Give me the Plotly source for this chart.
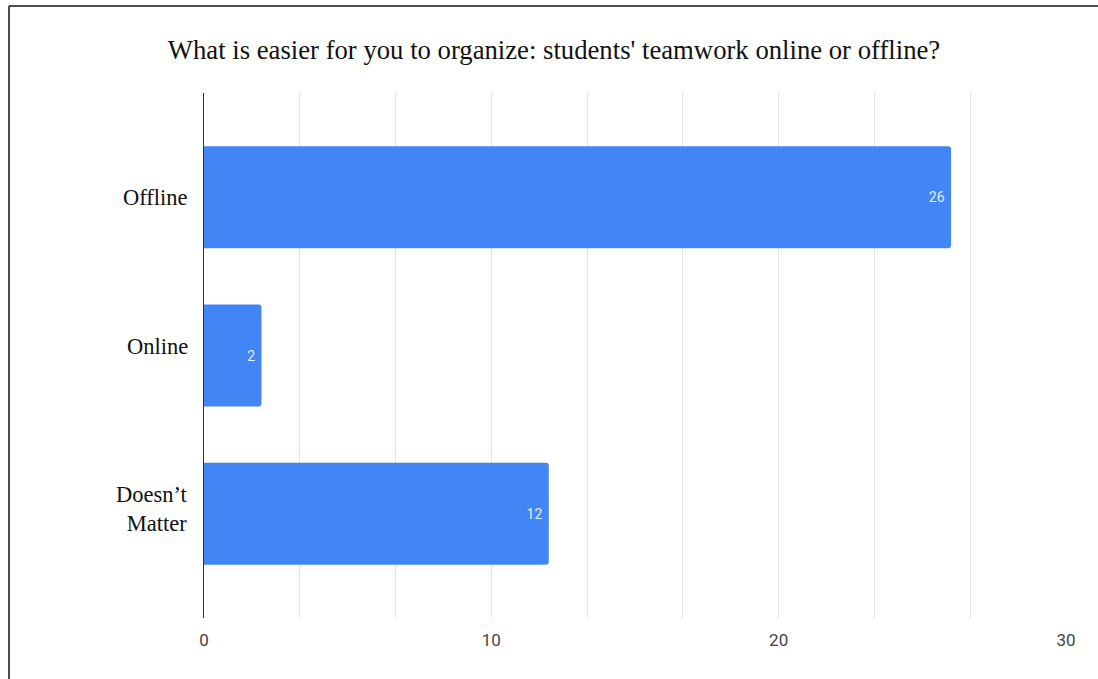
import plotly.graph_objects as go

# Survey answers and counts
categories = ["Offline", "Online", "Doesn’t<br>Matter"]
counts = [26, 2, 12]
x_ticks = [0, 10, 20, 30]

title_text = "What is easier for you to organize: students' teamwork online or offline?"

fig = go.Figure(
    go.Bar(
        x=counts,
        y=categories,
        orientation="h",
        width=0.645,
        marker=dict(color="#4285F4", cornerradius=3, line=dict(width=0)),
        texttemplate="%{x}\u00a0",
        textposition="inside",
        insidetextanchor="end",
        textfont=dict(family="Roboto", size=14, color="rgba(255,255,255,0.88)"),
        cliponaxis=False,
    )
)

fig.update_layout(
    width=1098,
    height=679,
    margin=dict(l=204, r=32, t=93, b=61),
    paper_bgcolor="white",
    plot_bgcolor="white",
    showlegend=False,
    title=dict(
        text=title_text,
        x=554 / 1098,
        xref="container",
        xanchor="center",
        y=1 - 50 / 679,
        yanchor="middle",
        font=dict(family="Liberation Serif", size=26.7, color="#111111"),
    ),
    xaxis=dict(
        range=[0, 30],
        tickvals=x_ticks,
        ticktext=[str(t) for t in x_ticks],
        showgrid=True,
        gridcolor="#e3e3e3",
        gridwidth=1,
        minor=dict(dtick=10 / 3, showgrid=True, gridcolor="#e3e3e3", gridwidth=1),
        zeroline=False,
        showline=False,
        ticks="outside",
        ticklen=7,
        tickcolor="rgba(0,0,0,0)",
        tickfont=dict(family="Roboto", size=17, color="#444444"),
    ),
    yaxis=dict(
        categoryorder="array",
        categoryarray=categories,
        autorange=False,
        range=[2.66, -0.66],
        showgrid=False,
        zeroline=False,
        showline=True,
        linecolor="#333333",
        linewidth=1,
        showticklabels=False,
        ticks="",
    ),
)

# Category labels placed beside the axis line
label_shift = {"Offline": 0, "Online": 9, "Doesn’t<br>Matter": 5}
for cat in categories:
    fig.add_annotation(
        x=0,
        xref="paper",
        y=cat,
        yref="y",
        text=cat,
        showarrow=False,
        xanchor="right",
        yanchor="middle",
        align="right",
        xshift=-14,
        yshift=label_shift[cat],
        font=dict(family="Liberation Serif", size=22.5, color="#111111"),
    )

# Frame lines along the left and top edges of the figure
frame_left = (9 - 204) / 862
frame_top = 1 + (93 - 6) / 525
fig.add_shape(
    type="line", xref="paper", yref="paper",
    x0=frame_left, x1=frame_left, y0=-0.3, y1=frame_top,
    line=dict(color="#4d4d4d", width=2), layer="above",
)
fig.add_shape(
    type="line", xref="paper", yref="paper",
    x0=frame_left, x1=1.2, y0=frame_top, y1=frame_top,
    line=dict(color="#4d4d4d", width=2), layer="above",
)

fig.write_html("out.html")
